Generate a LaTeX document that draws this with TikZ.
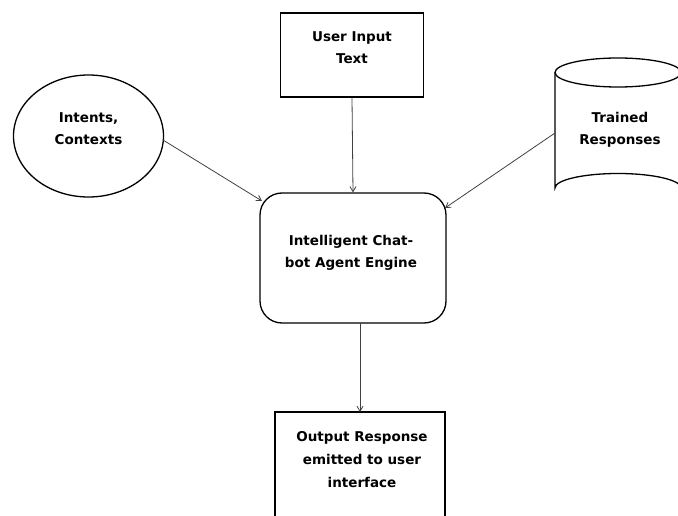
\documentclass[tikz,border=0pt]{standalone}
\usepackage{fontspec}
\setmainfont{DejaVu Sans}
\usetikzlibrary{arrows.meta}
\begin{document}
\begin{tikzpicture}[x=1pt,y=-1pt,
  lbl/.style={font=\bfseries\fontsize{13.5}{22}\selectfont, align=center, text=black, inner sep=0pt},
  shp/.style={draw=black, line width=1.3pt, fill=white},
  conn/.style={draw=black!75, line width=0.8pt, -{Straight Barb[length=5pt,width=6pt]}}]
\useasboundingbox (0,0) rectangle (678,516);
% user input
\node[shp, minimum width=143pt, minimum height=84pt] (user) at (352,55) {};
\node[lbl] (usertxt) at (352,48) {User Input\\Text};
% ellipse
\draw[shp] (88.5,136) ellipse [x radius=75, y radius=61];
\node[lbl] (intents) at (88.5,129) {Intents,\\Contexts};
\coordinate (ellR) at (163,140);
% cylinder
\draw[shp] (555,72.5) -- (555,188) arc[start angle=180, end angle=360, x radius=63, y radius=14.5] -- (681,72.5);
\draw[shp] (618,72.5) ellipse [x radius=63, y radius=14.5];
\node[lbl] (trained) at (620,130) {Trained\\Responses};
\coordinate (cylL) at (555,133);
% engine
\node[shp, rounded corners=22pt, minimum width=186pt, minimum height=130pt] (engine) at (353,258) {};
\node[lbl] (enginetxt) at (351,252.5) {Intelligent Chat-\\bot Agent Engine};
% output
\draw[shp] (275,530) -- (275,412) -- (445,412) -- (445,530);
\node[lbl, font=\bfseries\fontsize{13.5}{23}\selectfont] (output) at (362,460) {Output Response\\emitted to user\\interface};
\coordinate (outTop) at (360,412);
% connectors
\draw[conn] (user.south) -- (engine.north);
\draw[conn] (ellR) -- (262,201);
\draw[conn] (cylL) -- (445,208);
\draw[conn] (360,323) -- (outTop);
\end{tikzpicture}
\end{document}
